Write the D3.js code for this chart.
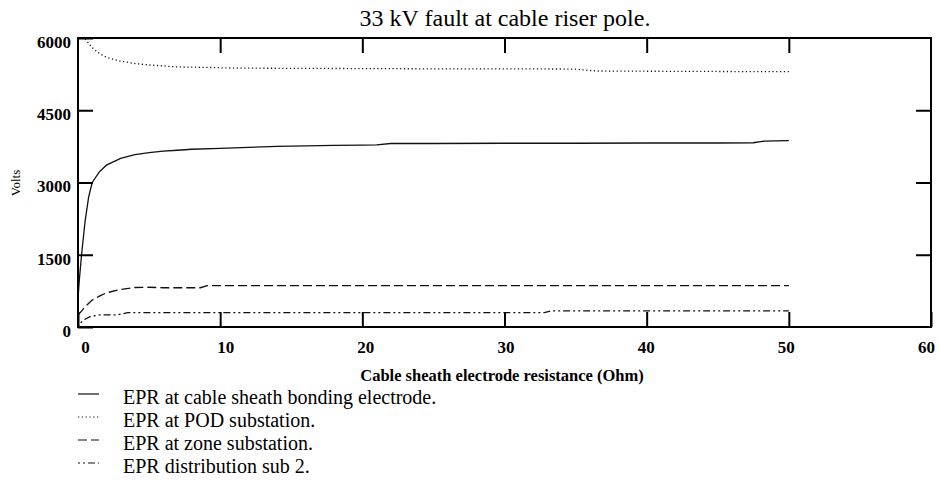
<!DOCTYPE html>
<html>
<head>
<meta charset="utf-8">
<script src="https://cdn.jsdelivr.net/npm/d3@7"></script>
<style>
  body { margin: 0; background: #fff; }
</style>
</head>
<body>
<div id="container"></div>
<script>
// resistance (Ohm) for each curve, and the volts
var sheathR = [0, 0.1, 0.25, 0.5, 0.75, 1, 1.5, 2, 3, 4, 5, 6, 7, 8, 10, 12, 14, 16, 18, 20, 21, 22, 25, 30, 35, 40, 45, 47.5, 48.3, 49, 50];
var sheathV = [600, 1000, 1500, 2200, 2700, 3000, 3220, 3360, 3500, 3580, 3620, 3650, 3670, 3690, 3710, 3730, 3750, 3760, 3770, 3775, 3780, 3810, 3810, 3815, 3815, 3820, 3820, 3825, 3860, 3865, 3870];

var podR = [0.5, 1, 1.5, 2, 3, 4, 5, 6, 7, 9, 11, 15, 20, 25, 30, 35, 35.8, 36.5, 40, 45, 50];
var podV = [5980, 5800, 5680, 5600, 5520, 5470, 5440, 5420, 5400, 5390, 5375, 5370, 5365, 5360, 5360, 5355, 5330, 5315, 5310, 5305, 5300];

var zoneR = [0, 0.25, 0.5, 1, 1.5, 2, 3, 4, 5, 6, 8.6, 9.1, 15, 20, 30, 40, 50];
var zoneV = [250, 330, 420, 560, 640, 710, 780, 820, 825, 815, 815, 860, 860, 860, 860, 860, 860];

var distR = [0, 0.15, 0.5, 0.85, 1.5, 2.7, 3.2, 3.5, 10, 20, 30, 32.8, 33.3, 40, 50];
var distV = [0, 80, 160, 215, 250, 250, 280, 300, 300, 300, 300, 300, 335, 335, 335];

var xTicks = [0, 10, 20, 30, 40, 50, 60];
var yTicks = [0, 1500, 3000, 4500, 6000];

var seriesNames = ["EPR at cable sheath bonding electrode.", "EPR at POD substation.", "EPR at zone substation.", "EPR distribution sub 2."];

var width = 939, height = 497;
var serif = "'Liberation Serif', 'Times New Roman', Tinos, 'DejaVu Serif', serif";

window.onload = function() {
    var svg = d3.select("#container").append("svg")
        .attr("width", width)
        .attr("height", height)
        .attr("font-family", serif);

    var x = d3.scaleLinear().domain([0, 60]).range([78, 931]);
    var y = d3.scaleLinear().domain([0, 6000]).range([327, 38]);
    // the printed x labels drift a little from their ticks
    var xLabel = d3.scaleLinear().domain([0, 60]).range([85, 926]);

    var series = [
        { r: sheathR, v: sheathV, dash: null },
        { r: podR, v: podV, dash: "1.2,2.6" },
        { r: zoneR, v: zoneV, dash: "9,4" },
        { r: distR, v: distV, dash: "2,3,2,3,7,3" }
    ];

    var line = d3.line()
        .x(function(d) { return x(d[0]); })
        .y(function(d) { return y(d[1]); });

    // curves
    svg.append("g").selectAll("path")
        .data(series)
        .enter().append("path")
        .attr("d", function(s) { return line(d3.zip(s.r, s.v)); })
        .style("fill", "none")
        .style("stroke", "#111")
        .style("stroke-width", 1.3)
        .style("stroke-dasharray", function(s) { return s.dash; });

    // frame
    svg.append("rect")
        .attr("x", x(0)).attr("y", y(6000))
        .attr("width", x(60) - x(0)).attr("height", y(0) - y(6000))
        .style("fill", "none").style("stroke", "#000").style("stroke-width", 2);

    // axes, ticks pointing inwards
    var bottom = svg.append("g")
        .attr("transform", "translate(0," + y(0) + ")")
        .call(d3.axisBottom(x).tickValues(xTicks).tickSize(-15).tickSizeOuter(0).tickPadding(14).tickFormat(d3.format("d")));
    var top = svg.append("g")
        .attr("transform", "translate(0," + y(6000) + ")")
        .call(d3.axisTop(x).tickValues([10, 20, 30, 40, 50]).tickSize(-15).tickSizeOuter(0).tickFormat(""));
    var left = svg.append("g")
        .attr("transform", "translate(" + x(0) + ",0)")
        .call(d3.axisLeft(y).tickValues(yTicks).tickSize(-15).tickSizeOuter(0).tickPadding(7).tickFormat(d3.format("d")));
    var right = svg.append("g")
        .attr("transform", "translate(" + x(60) + ",0)")
        .call(d3.axisRight(y).tickValues([1500, 3000, 4500]).tickSize(-15).tickSizeOuter(0).tickFormat(""));

    [bottom, top, left, right].forEach(function(g) {
        g.attr("font-family", serif);
        g.select(".domain").remove();
        g.selectAll("line").style("stroke", "#000").style("stroke-width", 2);
        g.selectAll("text")
            .style("font-family", serif)
            .style("font-size", "17px")
            .style("font-weight", "bold")
            .style("fill", "#000");
    });
    bottom.selectAll("text").attr("dx", function(d) { return xLabel(d) - x(d); });
    left.selectAll("text").attr("dy", "0.55em");

    // title
    svg.append("text")
        .attr("x", 505).attr("y", 26)
        .attr("text-anchor", "middle")
        .style("font-family", serif)
        .style("font-size", "24px")
        .text("33 kV fault at cable riser pole.");

    // axis titles
    svg.append("text")
        .attr("x", 502).attr("y", 381)
        .attr("text-anchor", "middle")
        .style("font-family", serif)
        .style("font-size", "16.5px")
        .style("font-weight", "bold")
        .text("Cable sheath electrode resistance (Ohm)");

    svg.append("text")
        .attr("transform", "translate(20,183) rotate(-90)")
        .attr("text-anchor", "middle")
        .style("font-family", serif)
        .style("font-size", "13px")
        .text("Volts");

    // legend
    var legend = svg.append("g").selectAll("g")
        .data(series)
        .enter().append("g")
        .attr("transform", function(d, i) { return "translate(0," + (398 + i * 23) + ")"; });

    legend.append("line")
        .attr("x1", 78).attr("x2", 99)
        .attr("y1", -4).attr("y2", -4)
        .style("stroke", "#111")
        .style("stroke-width", 1.2)
        .style("stroke-dasharray", function(s) { return s.dash; });

    legend.append("text")
        .attr("x", 123).attr("y", 0)
        .attr("dy", "0.32em")
        .style("font-family", serif)
        .style("font-size", "20px")
        .text(function(d, i) { return seriesNames[i]; });
}
</script>
</body>
</html>
